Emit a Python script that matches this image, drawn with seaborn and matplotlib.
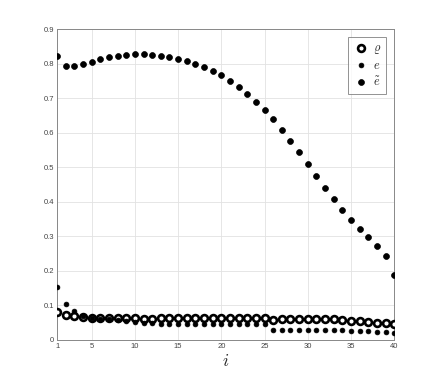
import numpy as np
import pandas as pd
import matplotlib
matplotlib.use("Agg")
import matplotlib.pyplot as plt
import seaborn as sns

i_vals = list(range(1, 41))

rho = [0.080, 0.073, 0.068, 0.066, 0.064, 0.063, 0.063, 0.063, 0.063, 0.063,
       0.062, 0.062, 0.063, 0.064, 0.065, 0.065, 0.065, 0.065, 0.065, 0.065,
       0.065, 0.065, 0.065, 0.065, 0.065, 0.059, 0.060, 0.061, 0.062, 0.062,
       0.062, 0.061, 0.060, 0.058, 0.056, 0.054, 0.052, 0.050, 0.048, 0.045]

e = [0.154, 0.103, 0.083, 0.068, 0.064, 0.062, 0.060, 0.057, 0.055, 0.052,
     0.050, 0.048, 0.047, 0.046, 0.046, 0.046, 0.046, 0.046, 0.046, 0.046,
     0.046, 0.046, 0.046, 0.046, 0.046, 0.028, 0.029, 0.029, 0.030, 0.030,
     0.030, 0.029, 0.029, 0.028, 0.027, 0.026, 0.025, 0.024, 0.022, 0.020]

e_tilde = [0.822, 0.792, 0.792, 0.799, 0.806, 0.813, 0.819, 0.822, 0.825, 0.827,
           0.827, 0.825, 0.822, 0.819, 0.814, 0.807, 0.800, 0.789, 0.778, 0.766,
           0.750, 0.733, 0.713, 0.690, 0.666, 0.639, 0.609, 0.577, 0.544, 0.509,
           0.475, 0.441, 0.408, 0.377, 0.348, 0.321, 0.297, 0.272, 0.242, 0.187]

labels = [r"$\varrho$", r"$e$", r"$\tilde{e}$"]
x_ticks = [1, 5, 10, 15, 20, 25, 30, 35, 40]
y_ticks = [0, 0.1, 0.2, 0.3, 0.4, 0.5, 0.6, 0.7, 0.8, 0.9]
y_ticklabels = ["0", "0.1", "0.2", "0.3", "0.4", "0.5", "0.6", "0.7", "0.8", "0.9"]

sns.set_theme(style="whitegrid")
plt.rcParams['font.family'] = ['Liberation Sans', 'DejaVu Sans']
plt.rcParams['mathtext.fontset'] = 'cm'

df = pd.DataFrame({"i": i_vals * 3,
                   "value": rho + e + e_tilde,
                   "series": [labels[0]] * 40 + [labels[1]] * 40 + [labels[2]] * 40})

fig = plt.figure(figsize=(4.36, 3.82), dpi=100)
ax = fig.add_axes([0.131, 0.110, 0.773, 0.814])

sns.scatterplot(data=df[df.series == labels[0]], x="i", y="value", ax=ax,
                marker="o", s=24, facecolor="white", edgecolor="black",
                linewidth=1.9, label=labels[0], zorder=3)
sns.scatterplot(data=df[df.series == labels[1]], x="i", y="value", ax=ax,
                marker="o", s=12, color="black", edgecolor="black",
                linewidth=0.5, label=labels[1], zorder=4)
sns.scatterplot(data=df[df.series == labels[2]], x="i", y="value", ax=ax,
                marker="o", s=18, color="black", edgecolor="black",
                linewidth=0.5, label=labels[2], zorder=4)

ax.set_xlim(1, 40)
ax.set_ylim(0, 0.9)
ax.set_xticks(x_ticks)
ax.set_yticks(y_ticks)
ax.set_yticklabels(y_ticklabels)
ax.tick_params(axis="both", labelsize=5.5, colors="#444444", direction="in",
               length=3, width=0.6, pad=2)
ax.tick_params(axis="both", labelcolor="#444444")
for sp in ax.spines.values():
    sp.set_color("#888888")
    sp.set_linewidth(0.7)
ax.grid(True, color="#e2e2e2", linewidth=0.6)
ax.set_facecolor("white")
ax.set_xlabel(r"$i$", fontsize=13, labelpad=2)
ax.set_ylabel("")

leg = ax.legend(loc="upper right", bbox_to_anchor=(0.977, 0.975), fontsize=9,
                frameon=True, fancybox=False, edgecolor="#777777",
                handletextpad=0.4, borderpad=0.4, labelspacing=0.3,
                handlelength=1.2, borderaxespad=0)
leg.get_frame().set_linewidth(0.7)

fig.savefig("out.png", dpi=100)
